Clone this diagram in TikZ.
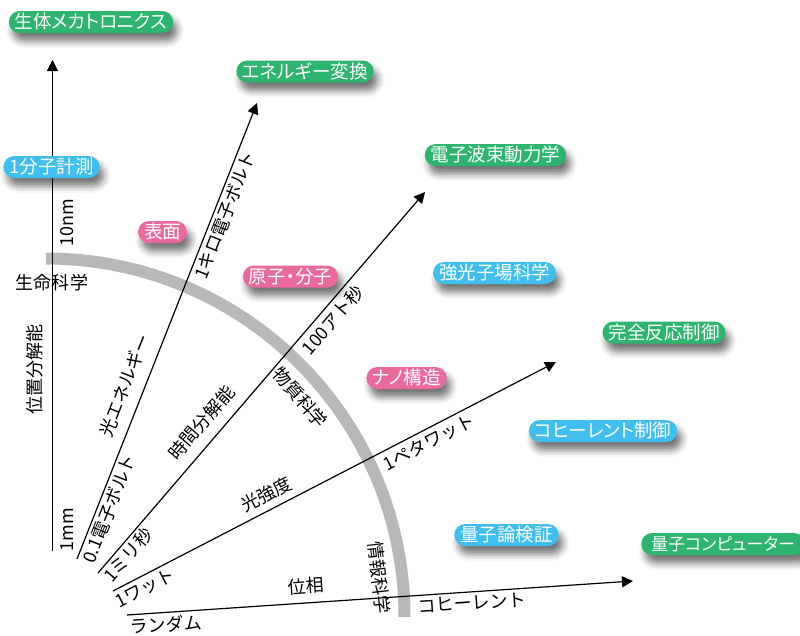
\documentclass[tikz,border=0pt]{standalone}
\usepackage{fontspec}
\setmainfont{Noto Sans CJK JP}
\newfontfamily\jpb[RawFeature=+palt]{Noto Sans CJK JP}
\usetikzlibrary{arrows.meta,shadows.blur}
\definecolor{bgreen}{HTML}{2DB46F}
\definecolor{bblue}{HTML}{3FBEEF}
\definecolor{bpink}{HTML}{EA6A9D}
\definecolor{arcgray}{HTML}{B8B8B8}
\tikzset{
  badge/.style={rounded corners=11pt, text=white, font=\jpb\fontsize{18.5pt}{20pt}\selectfont,
    inner xsep=6pt, inner ysep=0pt, minimum height=22pt, text height=15.5pt, text depth=2pt,
    blur shadow={shadow xshift=4pt, shadow yshift=-8pt, shadow blur radius=7pt, shadow opacity=55}},
  gbadge/.style={badge, fill=bgreen},
  bbadge/.style={badge, fill=bblue},
  pbadge/.style={badge, fill=bpink},
  lbl/.style={font=\fontsize{18pt}{20pt}\selectfont, text=black, inner xsep=0pt, inner ysep=4.5pt,
    text height=14pt, text depth=2pt},
  axis/.style={line width=1.2pt, draw=black, -{Triangle[length=11pt,width=11pt]}},
}
\begin{document}
\begin{tikzpicture}[x=1pt,y=1pt]
\useasboundingbox (0,0) rectangle (800,-635);
% quarter arc
\coordinate (ctr) at (46,-617);
\coordinate (arcS) at (46,-258.5);
\draw[arcgray, line width=12pt] (arcS) arc[start angle=90, end angle=0, radius=358.5pt];
\node[lbl, rotate=-49.2] (mat) at ([shift={(40.8:335pt)}]ctr) {物質科学};
\node[lbl, rotate=-83.3] (inf) at ([shift={(6.7:335pt)}]ctr) {情報科学};
\node[lbl] (life) at (52,-283) {生命科学};
% axes
\coordinate (a1) at (52.5,-551); \coordinate (b1) at (52.5,-60);
\coordinate (a2) at (77,-559);   \coordinate (b2) at (257,-103);
\coordinate (a3) at (98,-573);   \coordinate (b3) at (425,-192);
\coordinate (a4) at (113,-591);  \coordinate (b4) at (556,-362);
\coordinate (a5) at (127,-615);  \coordinate (b5) at (633,-581);
\draw[axis] (a1) --
  node[lbl, sloped, pos=0.043, below, inner ysep=6.5pt] (l1a) {1mm}
  node[lbl, sloped, pos=0.668, below, inner ysep=6.5pt] (l1b) {10nm}
  node[lbl, sloped, pos=0.369, above, inner ysep=8.5pt] (l1c) {位置分解能} (b1);
\draw[axis] (a2) --
  node[lbl, sloped, pos=0.12, below, inner ysep=3.5pt] (l2a) {0.1電子ボルト}
  node[lbl, sloped, pos=0.365, above, inner ysep=10pt] (l2b) {光エネルギー}
  node[lbl, sloped, pos=0.763, below, inner ysep=3.5pt] (l2c) {1キロ電子ボルト} (b2);
\draw[axis] (a3) --
  node[lbl, sloped, pos=0.066, below, inner ysep=3pt] (l3a) {1ミリ秒}
  node[lbl, sloped, pos=0.361, above, inner ysep=10pt] (l3b) {時間分解能}
  node[lbl, sloped, pos=0.687, below, inner ysep=5.5pt] (l3c) {100アト秒} (b3);
\draw[axis] (a4) --
  node[lbl, sloped, pos=0.06, below, inner ysep=4pt] (l4a) {1ワット}
  node[lbl, sloped, pos=0.363, above, inner ysep=6pt] (l4b) {光強度}
  node[lbl, sloped, pos=0.70, below, inner ysep=5pt] (l4c) {1ペタワット} (b4);
\draw[axis] (a5) --
  node[lbl, sloped, pos=0.076, below, inner ysep=4.5pt] (l5a) {ランダム}
  node[lbl, sloped, pos=0.356, above, inner ysep=7.5pt] (l5b) {位相}
  node[lbl, sloped, pos=0.68, below, inner ysep=3pt] (l5c) {コヒーレント} (b5);
% badges
\node[gbadge] (n1) at (91,-22) {生体メカトロニクス};
\node[gbadge] (n2) at (305,-71.5) {エネルギー変換};
\node[gbadge] (n3) at (495.5,-155) {電子波束動力学};
\node[bbadge] (n4) at (51.5,-167) {1分子計測};
\node[pbadge] (n5) at (162.5,-232) {表面};
\node[pbadge] (n6) at (290.5,-276.5) {原子・分子};
\node[bbadge] (n7) at (494.5,-273) {強光子場科学};
\node[pbadge] (n8) at (406.5,-378) {ナノ構造};
\node[gbadge] (n9) at (664,-332.5) {完全反応制御};
\node[bbadge] (n10) at (603,-431) {コヒーレント制御};
\node[bbadge] (n11) at (506.5,-535) {量子論検証};
\node[gbadge, anchor=west, font=\jpb\fontsize{17pt}{20pt}\selectfont, inner xsep=10pt] (n12) at (641,-544) {量子コンピューター};
\end{tikzpicture}
\end{document}
